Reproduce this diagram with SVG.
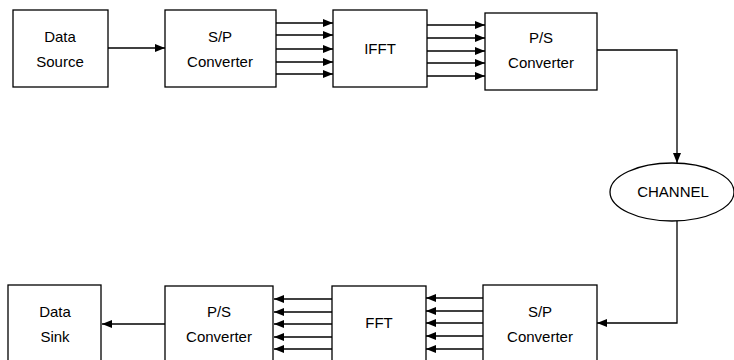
<svg xmlns="http://www.w3.org/2000/svg" width="734" height="360" viewBox="0 0 734 360">
<style>
.box{fill:#fff;stroke:#000;stroke-width:1.3}
.t{font-family:"Liberation Sans",Arial,sans-serif;font-size:15px;fill:#000;text-anchor:middle}
.c{fill:none;stroke:#000;stroke-width:1.3}
</style>
<defs>
<marker id="ah" viewBox="0 0 10 8" refX="10" refY="4" markerWidth="10" markerHeight="8" markerUnits="userSpaceOnUse" orient="auto">
<path d="M0,0 L10,4 L0,8 Z" fill="#000"/>
</marker>
</defs>
<rect width="734" height="360" fill="#fff"/>
<g id="data-source"><rect class="box" x="13" y="10" width="95" height="77"/><text class="t" x="60" y="42">Data</text><text class="t" x="60" y="67">Source</text></g>
<g id="sp-tx"><rect class="box" x="165" y="10" width="111" height="77"/><text class="t" x="220" y="42">S/P</text><text class="t" x="220" y="67">Converter</text></g>
<g id="ifft"><rect class="box" x="333" y="10" width="94" height="77"/><text class="t" x="380" y="54">IFFT</text></g>
<g id="ps-tx"><rect class="box" x="485" y="13" width="112" height="77"/><text class="t" x="541" y="43">P/S</text><text class="t" x="541" y="68">Converter</text></g>
<g id="channel"><ellipse class="box" cx="672" cy="192" rx="62" ry="29"/><text class="t" x="673" y="197">CHANNEL</text></g>
<g id="sp-rx"><rect class="box" x="483" y="285" width="114" height="80"/><text class="t" x="540" y="317">S/P</text><text class="t" x="540" y="342">Converter</text></g>
<g id="fft"><rect class="box" x="332" y="286" width="94" height="80"/><text class="t" x="379" y="328">FFT</text></g>
<g id="ps-rx"><rect class="box" x="165" y="286" width="108" height="80"/><text class="t" x="219" y="317">P/S</text><text class="t" x="219" y="342">Converter</text></g>
<g id="data-sink"><rect class="box" x="8" y="285" width="93" height="80"/><text class="t" x="55" y="317">Data</text><text class="t" x="55" y="342">Sink</text></g>
<g id="connectors">
<path class="c" d="M108,48 H165" marker-end="url(#ah)"/>
<path class="c" d="M276,23 H333" marker-end="url(#ah)"/>
<path class="c" d="M276,35 H333" marker-end="url(#ah)"/>
<path class="c" d="M276,49 H333" marker-end="url(#ah)"/>
<path class="c" d="M276,62 H333" marker-end="url(#ah)"/>
<path class="c" d="M276,74 H333" marker-end="url(#ah)"/>
<path class="c" d="M427,25 H485" marker-end="url(#ah)"/>
<path class="c" d="M427,38 H485" marker-end="url(#ah)"/>
<path class="c" d="M427,51 H485" marker-end="url(#ah)"/>
<path class="c" d="M427,63 H485" marker-end="url(#ah)"/>
<path class="c" d="M427,76 H485" marker-end="url(#ah)"/>
<path class="c" d="M597,50 H677 V163" marker-end="url(#ah)"/>
<path class="c" d="M677,221 V323 H597" marker-end="url(#ah)"/>
<path class="c" d="M483,298 H426" marker-end="url(#ah)"/>
<path class="c" d="M483,311 H426" marker-end="url(#ah)"/>
<path class="c" d="M483,323 H426" marker-end="url(#ah)"/>
<path class="c" d="M483,336 H426" marker-end="url(#ah)"/>
<path class="c" d="M483,349 H426" marker-end="url(#ah)"/>
<path class="c" d="M332,299 H274" marker-end="url(#ah)"/>
<path class="c" d="M332,312 H274" marker-end="url(#ah)"/>
<path class="c" d="M332,324 H274" marker-end="url(#ah)"/>
<path class="c" d="M332,337 H274" marker-end="url(#ah)"/>
<path class="c" d="M332,349 H274" marker-end="url(#ah)"/>
<path class="c" d="M165,324 H102" marker-end="url(#ah)"/>
</g>
</svg>
